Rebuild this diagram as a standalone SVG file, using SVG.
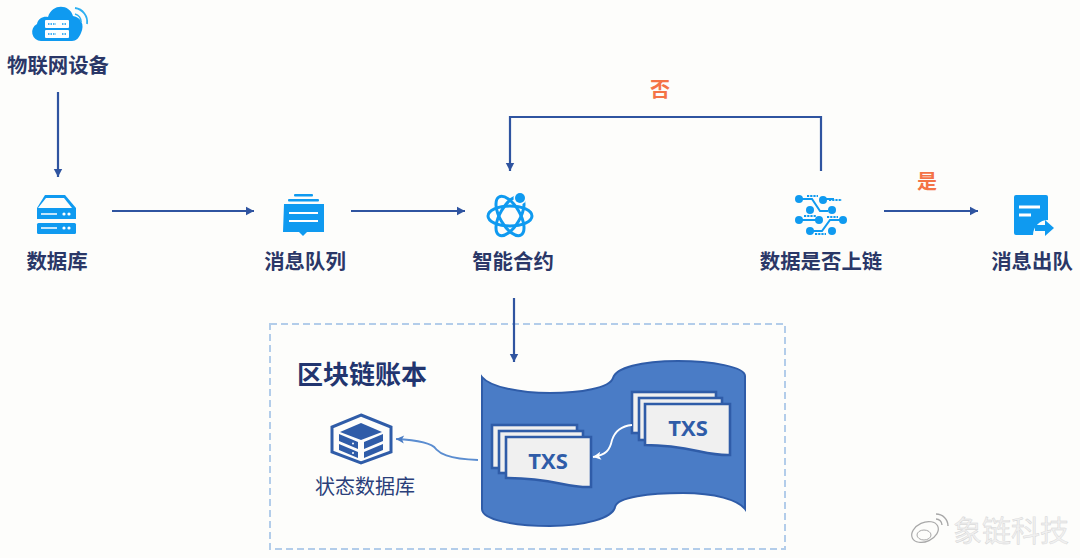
<svg xmlns="http://www.w3.org/2000/svg" width="1080" height="558" viewBox="0 0 1080 558">
<defs>
<marker id="ah" markerUnits="userSpaceOnUse" markerWidth="10" markerHeight="10" refX="9" refY="5" orient="auto"><path d="M1 .8L9 5L1 9.2z" fill="#2f54a0"/></marker>
<marker id="ahl" markerUnits="userSpaceOnUse" markerWidth="10" markerHeight="10" refX="9" refY="5" orient="auto"><path d="M1 1L9 5L1 9L3 5z" fill="#4a7cc4"/></marker>
<marker id="ahw" markerUnits="userSpaceOnUse" markerWidth="10" markerHeight="10" refX="9" refY="5" orient="auto"><path d="M1 1L9 5L1 9L3 5z" fill="#fff"/></marker>
</defs>
<style>
text{font-family:"Noto Sans CJK SC","Liberation Sans",sans-serif}
.lb{font-size:20.4px;font-weight:700;fill:#2a3767;text-anchor:middle}
.or{font-size:20px;font-weight:700;fill:#f47346;text-anchor:middle}
.c{fill:none;stroke:#2f54a0;stroke-width:2.2}
.ic{fill:#0f9af0}
.icl{fill:none;stroke:#0f9af0;stroke-width:3}
.w{fill:#fff}
.doc{fill:#f0f0f0;stroke:#2f5ca8;stroke-width:2.6}
.tx{font-family:"Open Sans","Liberation Sans",sans-serif;font-size:22px;font-weight:700;fill:#2f5ca8;text-anchor:middle}
.sd{fill:#2f5ca8}
</style>
<rect width="1080" height="558" fill="#fdfdfb"/>
<rect x="270" y="324" width="515" height="225" fill="none" stroke="#b3cdea" stroke-width="2" stroke-dasharray="7 4"/>

<g id="connectors">
<path class="c" d="M58 92V177" marker-end="url(#ah)"/>
<path class="c" d="M112 211H254" marker-end="url(#ah)"/>
<path class="c" d="M351 211H465" marker-end="url(#ah)"/>
<path class="c" d="M821 171V117H510V171" marker-end="url(#ah)"/>
<path class="c" d="M884 211H978" marker-end="url(#ah)"/>
<path class="c" d="M514 298V362" marker-end="url(#ah)"/>
<path d="M478 460C445 459 439 452 436 449C432 443 415 440 396 439" fill="none" stroke="#5b8dd0" stroke-width="1.8" marker-end="url(#ahl)"/>
</g>

<g id="iot">
<path class="ic" d="M41 41A9 9 0 0 1 37 24C38 18 44 16 48 17C52 3 70 4 73 16C81 17 85 25 81 33C79 38 76 41 72 41z"/>
<rect class="w" x="45" y="20" width="24" height="8" rx="1"/><rect class="w" x="45" y="30" width="24" height="8" rx="1"/>
<path d="M48 24H56M48 34H56M62 24H66M62 34H66" stroke="#0f9af0" stroke-width="1.4" stroke-dasharray="1.5 1"/>
<path d="M75 8A14 14 0 0 1 87 24M75 14A8 8 0 0 1 81 22" fill="none" stroke="#2eb0f2" stroke-width="1.8"/>
<text class="lb" x="58" y="73">物联网设备</text>
</g>
<g id="database">
<path class="ic" d="M45 195H65L76 208V219H37V208z"/>
<path d="M46 198H64L72 208H38z" fill="#fdfdfb"/>
<rect class="ic" x="37" y="223" width="39" height="11" rx="1.5"/>
<path d="M41 214H57M41 228H57" stroke="#fff" stroke-width="1.6"/>
<circle class="w" cx="64" cy="214" r="1.6"/><circle class="w" cx="69" cy="214" r="1.6"/><circle class="w" cx="64" cy="228" r="1.6"/><circle class="w" cx="69" cy="228" r="1.6"/>
<text class="lb" x="57" y="269">数据库</text>
</g>
<g id="mq">
<rect class="ic" x="294" y="194" width="19" height="2.5" rx="1"/><rect class="ic" x="288" y="199" width="31" height="2.5" rx="1"/>
<path class="ic" d="M284 204H324V232H307L303 236L299 232H283z"/>
<path d="M289 213H318M289 221H318" stroke="#fff" stroke-width="2"/>
<text class="lb" x="305" y="269">消息队列</text>
</g>
<g id="contract">
<ellipse class="icl" cx="510" cy="216" rx="22" ry="10"/>
<ellipse class="icl" cx="510" cy="216" rx="22" ry="10" transform="rotate(60 510 216)"/>
<ellipse class="icl" cx="510" cy="216" rx="22" ry="10" transform="rotate(120 510 216)"/>
<circle cx="520" cy="198" r="6.5" fill="#fdfdfb"/>
<circle class="ic" cx="520" cy="198" r="5"/>
<text class="lb" x="513" y="269">智能合约</text>
</g>
<g id="decide">
<g fill="none" stroke="#0f9af0" stroke-width="2"><path d="M799 199H812L820 211H828M823 199H834M801 220H819M810 231H822L830 220H842"/></g>
<g class="ic"><circle cx="799" cy="199" r="4"/><circle cx="823" cy="200" r="4"/><circle cx="810" cy="210" r="4"/><circle cx="832" cy="210" r="4"/><circle cx="799" cy="220" r="4"/><circle cx="819" cy="220" r="4"/><circle cx="843" cy="220" r="4"/><circle cx="810" cy="231" r="4"/><circle cx="832" cy="231" r="4"/></g>
<path d="M807 196H818M829 200H842M804 216H816M827 217H838M815 234H826" stroke="#0f9af0" stroke-width="1.8" stroke-dasharray="2.2 1"/>
<text class="lb" x="821" y="269">数据是否上链</text>
</g>
<g id="out">
<path class="ic" d="M1016 195H1046A2 2 0 0 1 1048 197V220A15 15 0 0 0 1033 235H1016A2 2 0 0 1 1014 233V197A2 2 0 0 1 1016 195z"/>
<path d="M1019 207H1040M1019 215H1031" stroke="#fff" stroke-width="3"/>
<path class="ic" d="M1035 225H1045V220L1054 228L1045 236V231H1035z"/>
<text class="lb" x="1032" y="269">消息出队</text>
</g>
<g id="yes-no">
<text class="or" x="660" y="97">否</text>
<text class="or" x="927" y="189">是</text>
</g>

<g id="ledger">
<text x="362" y="384" font-size="26" font-weight="700" fill="#22356f" text-anchor="middle">区块链账本</text>
<path d="M482 377C490 387 520 393 550 393C580 393 610 388 613 378C616 368 640 361 678 361C712 361 745 367 745 376V509C738 500 715 493 683 493C650 493 617 497 615 507C613 518 585 526 550 526C515 526 482 520 482 509z" fill="#4a7cc6" stroke="#2f5ca8" stroke-width="2"/>
<g id="txs-left">
<rect class="doc" x="492" y="425" width="85" height="43"/>
<rect class="doc" x="499" y="431" width="84" height="42"/>
<path class="doc" d="M506 437H591V487C565 488 555 478 506 478z"/>
<text class="tx" x="548" y="469">TXS</text>
</g>
<g id="txs-right">
<rect class="doc" x="632" y="392" width="84" height="41"/>
<rect class="doc" x="639" y="398" width="83" height="42"/>
<path class="doc" d="M645 404H730V455C705 456 690 445 645 445z"/>
<text class="tx" x="688" y="436">TXS</text>
</g>
<path d="M632 425C622 426 615 431 612 440C610 450 606 455 593 457" fill="none" stroke="#fff" stroke-width="1.8" marker-end="url(#ahw)"/>
</g>

<g id="state-db">
<path d="M361 415L391 427V452L361 463L332 452V427z" fill="none" stroke="#2f5ca8" stroke-width="3"/>
<path class="sd" d="M361 423L382 432L361 440L340 432z"/>
<path class="sd" d="M339 434L358 442V449L339 441zM383 434L364 442V449L383 441zM339 444L358 452V458L339 450zM383 444L364 452V458L383 450z"/>
<circle class="w" cx="353" cy="443.500" r="1"/><circle class="w" cx="353" cy="453" r="1"/>
<text x="365" y="494" font-size="20" fill="#2a3f7a" text-anchor="middle">状态数据库</text>
</g>

<g id="watermark">
<ellipse cx="925" cy="532" rx="14" ry="9.500" fill="none" stroke="#a8a8a8" stroke-width="1.2" transform="rotate(-25 925 532)"/>
<ellipse cx="924" cy="535" rx="7" ry="5" fill="none" stroke="#a8a8a8" stroke-width="1"/>
<path d="M936 514A12 12 0 0 1 948 526M936 519A6 6 0 0 1 942 525" fill="none" stroke="#a8a8a8" stroke-width="1.4"/>
<text x="1011" y="542" font-size="29" fill="#f0f0f0" stroke="#d2d2d2" stroke-width=".4" text-anchor="middle">象链科技</text>
</g>
</svg>
